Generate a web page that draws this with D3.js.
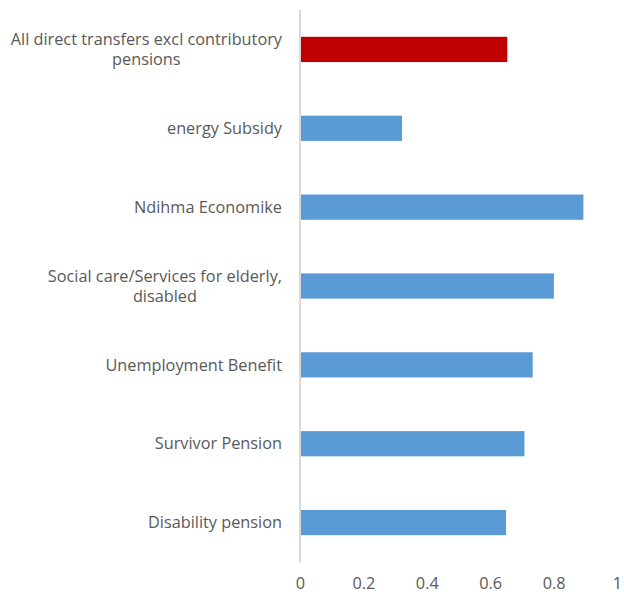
<!DOCTYPE html>
<html>
<head>
<meta charset="utf-8">
<script src="https://cdn.jsdelivr.net/npm/d3@7/dist/d3.min.js"></script>
<style>
  body { margin: 0; background: #fff; }
  svg text { font-family: "Open Sans", "Noto Sans", sans-serif; fill: #595959; }
</style>
</head>
<body>
<svg id="chart" width="624" height="597"></svg>
<script>
// Programme categories (top to bottom) and their values
const categories = [
  ["All direct transfers excl contributory", "pensions"],
  ["energy Subsidy"],
  ["Ndihma Economike"],
  ["Social care/Services for elderly,", "disabled"],
  ["Unemployment Benefit"],
  ["Survivor Pension"],
  ["Disability pension"]
];
const values = [0.654, 0.322, 0.894, 0.801, 0.734, 0.708, 0.65];
const highlight = [true, false, false, false, false, false, false];
const tickValues = [0, 0.2, 0.4, 0.6, 0.8, 1];

const svg = d3.select("#chart");
const margin = { top: 10, right: 7, bottom: 35, left: 300 };
const W = 624, H = 597;

const keys = categories.map(c => c.join(" "));
const x = d3.scaleLinear().domain([0, 1]).range([margin.left, W - margin.right]);
const y = d3.scaleBand().domain(keys).range([margin.top, H - margin.bottom]).paddingInner(0.68).paddingOuter(0.34);

// Bars
svg.append("g").selectAll("rect")
  .data(values)
  .join("rect")
  .attr("x", x(0))
  .attr("y", (d, i) => y(keys[i]))
  .attr("width", d => x(d) - x(0))
  .attr("height", y.bandwidth())
  .attr("fill", (d, i) => highlight[i] ? "#c00000" : "#5b9bd5");

// Vertical category axis line
svg.append("line")
  .attr("x1", x(0)).attr("x2", x(0))
  .attr("y1", margin.top).attr("y2", H - margin.bottom + 1)
  .attr("stroke", "#d9d9d9").attr("stroke-width", 2);

// Category labels: block right-aligned, lines centred within the block
const fs = 16.3;
const labelRight = 282;
const lineH = 20;
const labels = svg.append("g");
categories.forEach((lines, i) => {
  const g = labels.append("g");
  const cy = y(keys[i]) + y.bandwidth() / 2;
  const texts = lines.map((ln, j) => g.append("text")
    .attr("font-size", fs)
    .attr("text-anchor", "middle")
    .attr("y", cy + (j - (lines.length - 1) / 2) * lineH)
    .attr("dy", "0.35em")
    .text(ln));
  const maxW = d3.max(texts, t => t.node().getComputedTextLength());
  texts.forEach(t => t.attr("x", labelRight - maxW / 2));
});

// Value axis tick labels
const axis = d3.axisBottom(x).tickValues(tickValues).tickSize(0).tickPadding(0)
  .tickFormat(d => d3.format("~g")(d));
const ax = svg.append("g").attr("transform", `translate(0,${H - 25})`).call(axis);
ax.select(".domain").remove();
ax.selectAll("text").attr("font-size", 16.3).attr("fill", "#595959")
  .attr("font-family", '"Open Sans", "Noto Sans", sans-serif')
  .attr("dy", "0.35em").attr("y", 11);
</script>
</body>
</html>
